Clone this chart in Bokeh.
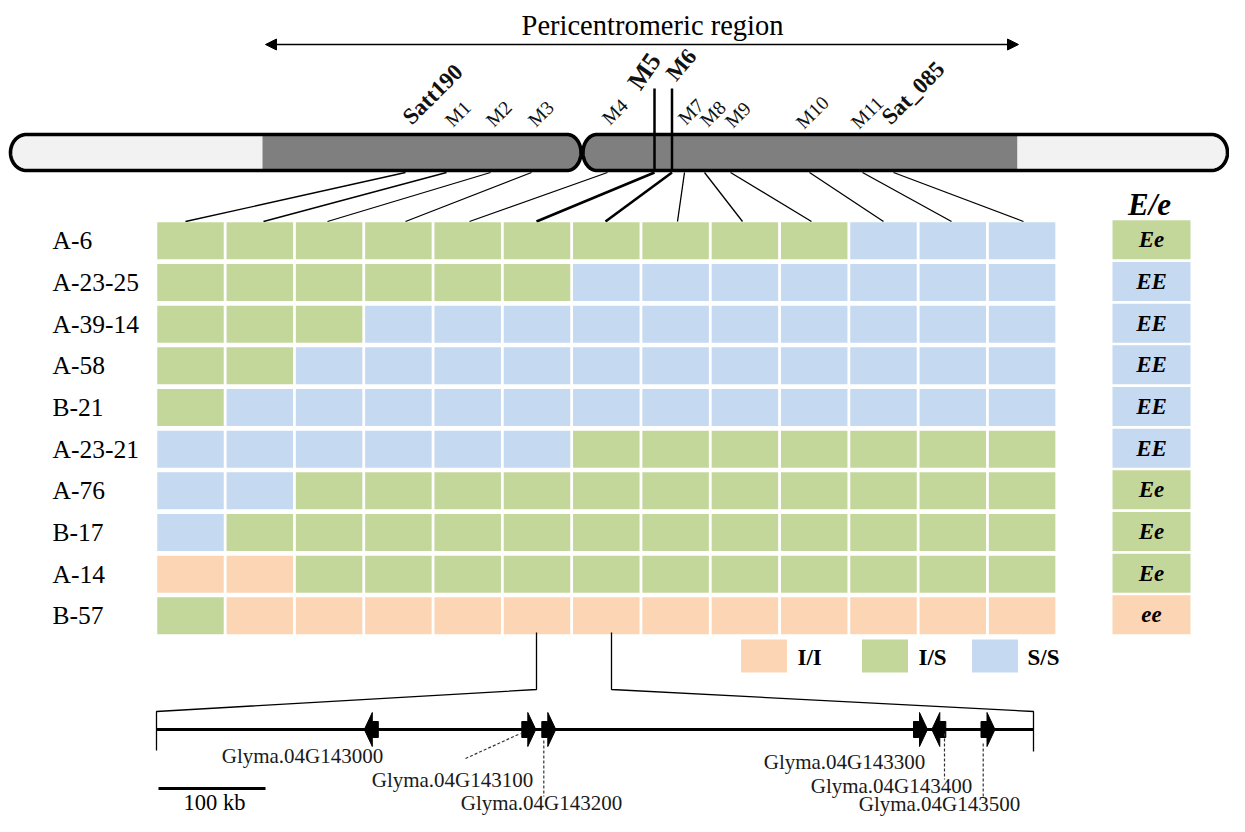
import numpy as np
from bokeh.plotting import figure
from bokeh.models import Range1d, Arrow, NormalHead
from bokeh.core.properties import value
from bokeh.embed import file_html
from bokeh.resources import INLINE

# ---------------- data ----------------
lines = ["A-6", "A-23-25", "A-39-14", "A-58", "B-21", "A-23-21", "A-76", "B-17", "A-14", "B-57"]
markers = ["Satt190", "M1", "M2", "M3", "M4", "M5", "M6", "M7", "M8", "M9", "M10", "M11", "Sat_085"]
# genotype per line per marker: I = I/I, H = I/S, S = S/S
genotypes = [
    "HHHHHHHHHHSSS",
    "HHHHHHSSSSSSS",
    "HHHSSSSSSSSSS",
    "HHSSSSSSSSSSS",
    "HSSSSSSSSSSSS",
    "SSSSSSHHHHHHH",
    "SSHHHHHHHHHHH",
    "SHHHHHHHHHHHH",
    "IIHHHHHHHHHHH",
    "HIIIIIIIIIIII",
]
e_locus = ["Ee", "EE", "EE", "EE", "EE", "EE", "Ee", "Ee", "Ee", "ee"]
e_class = ["H", "S", "S", "S", "S", "S", "H", "H", "H", "I"]
legend_keys = ["I", "H", "S"]
legend_labels = ["I/I", "I/S", "S/S"]
genes = ["Glyma.04G143000", "Glyma.04G143100", "Glyma.04G143200",
         "Glyma.04G143300", "Glyma.04G143400", "Glyma.04G143500"]
gene_pos = [370.8, 528.3, 548.3, 920.0, 938.3, 987.5]
gene_strand = [-1, 1, 1, 1, -1, 1]
scale_label = "100 kb"

colors = {"I": "#fcd5b4", "H": "#c4d79b", "S": "#c5d9f1"}
FONT = value("Liberation Serif")

p = figure(width=1229, height=816, x_range=Range1d(0, 1229), y_range=Range1d(816, 0),
           output_backend="svg", toolbar_location=None, min_border=0,
           x_axis_location=None, y_axis_location=None)
p.grid.visible = False
p.outline_line_color = None
p.background_fill_color = "white"

# ---------------- title arrow ----------------
p.text(x=[652], y=[25], text=["Pericentromeric region"], text_font=FONT, text_font_size="28.5px",
       text_align="center", text_baseline="middle", text_color="black")
p.add_layout(Arrow(start=NormalHead(size=11, fill_color="black", line_color="black"),
                   end=NormalHead(size=11, fill_color="black", line_color="black"),
                   x_start=265, y_start=44, x_end=1018, y_end=44, line_width=1.3, line_color="black"))

# ---------------- chromosome ----------------
def capsule(x0, x1, yt, yb, rl, rr, n=40):
    yc = (yt + yb) / 2.0
    ry = (yb - yt) / 2.0
    xs, ys = [], []
    if rr > 0:
        t = np.linspace(-np.pi / 2, np.pi / 2, n)
        xs += list(x1 - rr + rr * np.cos(t)); ys += list(yc + ry * np.sin(t))
    else:
        xs += [x1, x1]; ys += [yt, yb]
    if rl > 0:
        t = np.linspace(np.pi / 2, 3 * np.pi / 2, n)
        xs += list(x0 + rl + rl * np.cos(t)); ys += list(yc + ry * np.sin(t))
    else:
        xs += [x0, x0]; ys += [yb, yt]
    return xs, ys

YT, YB = 134, 170
cen_l, cen_r = 580.5, 582.5
RIGHT_END = 1227
pieces = [
    (capsule(10, 262, YT, YB, 16, 0), "#f2f2f2"),
    (capsule(262, cen_l, YT, YB, 0, 14), "#7f7f7f"),
    (capsule(cen_r, 1017, YT, YB, 14, 0), "#7f7f7f"),
    (capsule(1017, RIGHT_END, YT, YB, 0, 16), "#f2f2f2"),
]
for (xs, ys), c in pieces:
    p.patch(xs, ys, fill_color=c, line_color=None)
for xs, ys in [capsule(10, cen_l, YT, YB, 16, 14), capsule(cen_r, RIGHT_END, YT, YB, 14, 16)]:
    p.patch(xs, ys, fill_color=None, line_color="black", line_width=3.6, line_join="round")

# marker vertical lines for M5 and M6
p.segment(x0=[654, 671.5], y0=[88, 88], x1=[654, 671.5], y1=[171, 171], line_color="black", line_width=2.5)

# marker labels
lab_x = [406, 448, 489, 531, 605, 633, 670, 681, 703, 728, 799, 854, 885]
lab_y = [120, 123, 123, 123, 121, 86, 77, 121, 123, 124, 125, 125, 120]
for i, m in enumerate(markers):
    ang = np.pi / 4
    if m == "M5":
        size, style, ang = "26px", "bold", np.radians(55)
    elif m == "M6":
        size, style, ang = "23px", "bold", np.radians(50)
    elif m in ("Satt190", "Sat_085"):
        size, style = "23px", "bold"
    else:
        size, style = "19.5px", "normal"
    p.text(x=[lab_x[i]], y=[lab_y[i]], text=[m], angle=ang, text_font=FONT,
           text_font_size=size, text_font_style=style, text_align="left",
           text_baseline="alphabetic", text_color="#111111")

# connecting lines chromosome -> columns
top_x = [405, 446, 490, 531, 607, 654, 671.5, 684, 704, 730, 809, 862, 893]
bot_x = [185, 263, 327, 405, 469, 536, 605, 677, 742, 811, 883, 951, 1023]
widths = [2.6 if m in ("M5", "M6") else 1.3 for m in markers]
p.segment(x0=top_x, y0=[172] * 13, x1=bot_x, y1=[221] * 13, line_color="black", line_width=widths)

# ---------------- genotype grid ----------------
col_pitch, row_pitch = 69.3, 41.67
cx0, cy0 = 190.0, 240.3
xs, ys, cs = [], [], []
for r, g in enumerate(genotypes):
    for c, k in enumerate(g):
        xs.append(cx0 + c * col_pitch); ys.append(cy0 + r * row_pitch); cs.append(colors[k])
p.rect(x=xs, y=ys, width=66.5, height=37, fill_color=cs, line_color=None)

p.text(x=[52] * len(lines), y=[cy0 + r * row_pitch for r in range(len(lines))], text=lines,
       text_font=FONT, text_font_size="25.5px", text_align="left", text_baseline="middle",
       text_color="black")

# E/e column
ey = [cy0 - 1 + r * row_pitch for r in range(len(lines))]
p.rect(x=[1151] * len(lines), y=ey, width=78, height=39, fill_color=[colors[k] for k in e_class],
       line_color=None)
p.text(x=[1151] * len(lines), y=ey, text=e_locus, text_font=FONT, text_font_size="23px",
       text_font_style="bold italic", text_align="center", text_baseline="middle", text_color="black")
p.text(x=[1149], y=[204], text=["E/e"], text_font=FONT, text_font_size="31px",
       text_font_style="bold italic", text_align="center", text_baseline="middle", text_color="black")

# legend
leg_x = [763.5, 884.5, 994.5]
p.rect(x=leg_x, y=[655.5] * 3, width=46, height=33, fill_color=[colors[k] for k in legend_keys],
       line_color=None)
p.text(x=[797, 918, 1027], y=[657] * 3, text=legend_labels, text_font=FONT, text_font_size="23px",
       text_font_style="bold", text_align="left", text_baseline="middle", text_color="black")

# ---------------- zoomed region ----------------
p.line([536, 536, 156, 156], [632, 689, 711, 750], line_color="black", line_width=1.3)
p.line([611, 611, 1033, 1033], [632, 689, 711, 751], line_color="black", line_width=1.3)
p.segment(x0=[156], y0=[729], x1=[1033], y1=[729], line_color="black", line_width=3)

gx, gy = [], []
yc = 729
for c, s in zip(gene_pos, gene_strand):
    st = c - 7
    px = np.array([0, 6, 6, 14, 6, 6, 0])
    py = np.array([-8, -8, -17, 0, 17, 8, 8])
    if s < 0:
        px = 14 - px
    gx.append(list(st + px)); gy.append(list(yc + py))
p.patches(gx, gy, fill_color="black", line_color="black", line_width=1)

# gene labels
gl_x = [302, 452, 541, 844, 891, 939]
gl_y = [755.5, 779, 802, 761, 785, 803]
p.text(x=gl_x, y=gl_y, text=genes, text_font=FONT, text_font_size="21px", text_align="center",
       text_baseline="middle", text_color="#1a1a1a")
# dashed leaders
p.segment(x0=[465, 543.3, 944, 982.7], y0=[758, 740, 733, 743],
          x1=[520, 543.3, 944, 982.7], y1=[733, 796, 779, 796],
          line_color="#333333", line_width=1.2, line_dash="3 2")

# scale bar
p.segment(x0=[158], y0=[788], x1=[265], y1=[788], line_color="black", line_width=3)
p.text(x=[214], y=[802], text=[scale_label], text_font=FONT, text_font_size="22.5px",
       text_align="center", text_baseline="middle", text_color="black")

open("out.html", "w").write(file_html(p, INLINE))
